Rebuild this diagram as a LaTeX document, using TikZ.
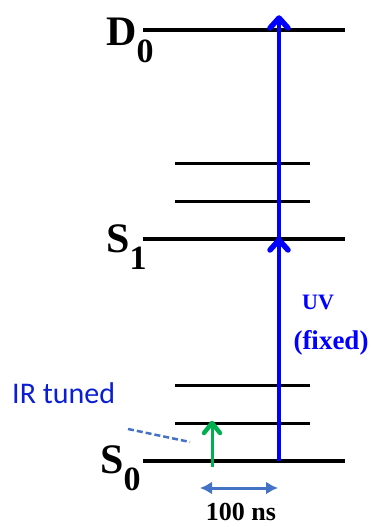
\documentclass[tikz,border=0pt]{standalone}
\usepackage{xcolor}
\usepackage{fontspec}
\setmainfont{Liberation Serif}
\newfontfamily\irfont{Carlito}
\usepackage{tikz}
\usetikzlibrary{arrows.meta}

\definecolor{irgreen}{RGB}{0,176,80}
\definecolor{steel}{RGB}{68,114,196}
\definecolor{irblue}{RGB}{10,30,210}
\newcommand{\lsub}[1]{\raisebox{-17pt}{\fontsize{34}{34}\selectfont #1}}

\begin{document}
\begin{tikzpicture}[x=1pt,y=-1pt,
  level/.style={line width=3.5pt},
  sublevel/.style={line width=3pt},
  beam/.style={line width=4pt,blue,line cap=round,line join=round},
  levellabel/.style={font=\fontsize{42}{42}\selectfont\bfseries,anchor=base west,inner sep=0pt}]
  \useasboundingbox (0,0) rectangle (372,527);
  % energy levels
  \draw[level] (143,30) -- (345,30);
  \draw[level] (143,239) -- (345,239);
  \draw[level] (143,461) -- (345,461);
  \foreach \y in {163,201,385,423}
    \draw[sublevel] (175,\y) -- (310,\y);
  \node[levellabel] (d0) at (106,46) {D\lsub{0}};
  \node[levellabel] (s1) at (106,252) {S\lsub{1}};
  \node[levellabel] (s0) at (100,473) {S\lsub{0}};
  % UV steps
  \coordinate (s0uv) at (279,461);
  \coordinate (s1uv) at (279,240);
  \coordinate (d0uv) at (279,18);
  \draw[beam,line cap=butt] (s0uv) -- (s1uv) -- (d0uv);
  \foreach \tip in {s1uv,d0uv}
    \draw[beam,line width=5.5pt] (\tip) ++(-9,10) -- (\tip) -- ++(9,10);
  \node[blue,font=\fontsize{22}{22}\selectfont\bfseries,anchor=base,inner sep=0pt] (uv) at (318,309) {UV};
  \node[blue,font=\fontsize{27}{27}\selectfont\bfseries,anchor=base,inner sep=0pt] (fixed) at (331,349) {(fixed)};
  % IR step
  \coordinate (s0ir) at (212,467);
  \coordinate (v1ir) at (212,423);
  \draw[beam,irgreen,line width=3pt,line cap=butt] (s0ir) -- (v1ir);
  \draw[beam,irgreen,line width=4.5pt] (v1ir) ++(-8,10) -- (v1ir) -- ++(8,10);
  \node[irblue,font=\irfont\fontsize{30}{30}\selectfont,anchor=base west,inner sep=0pt] (ir) at (12,403) {IR tuned};
  \coordinate (irtail) at (128,429);
  \coordinate (irhead) at (190,442);
  \draw[steel,line width=2.5pt,dash pattern=on 6pt off 3pt] (irtail) -- (irhead);
  % delay
  \coordinate (tl) at (200,488);
  \coordinate (tr) at (278,488);
  \draw[steel,line width=3pt,{Latex[length=12pt,width=13pt]}-{Latex[length=12pt,width=13pt]}] (tl) -- (tr);
  \node[font=\fontsize{26}{26}\selectfont\bfseries,anchor=base,inner sep=0pt] (dt) at (241,520) {100 ns};
\end{tikzpicture}
\end{document}
